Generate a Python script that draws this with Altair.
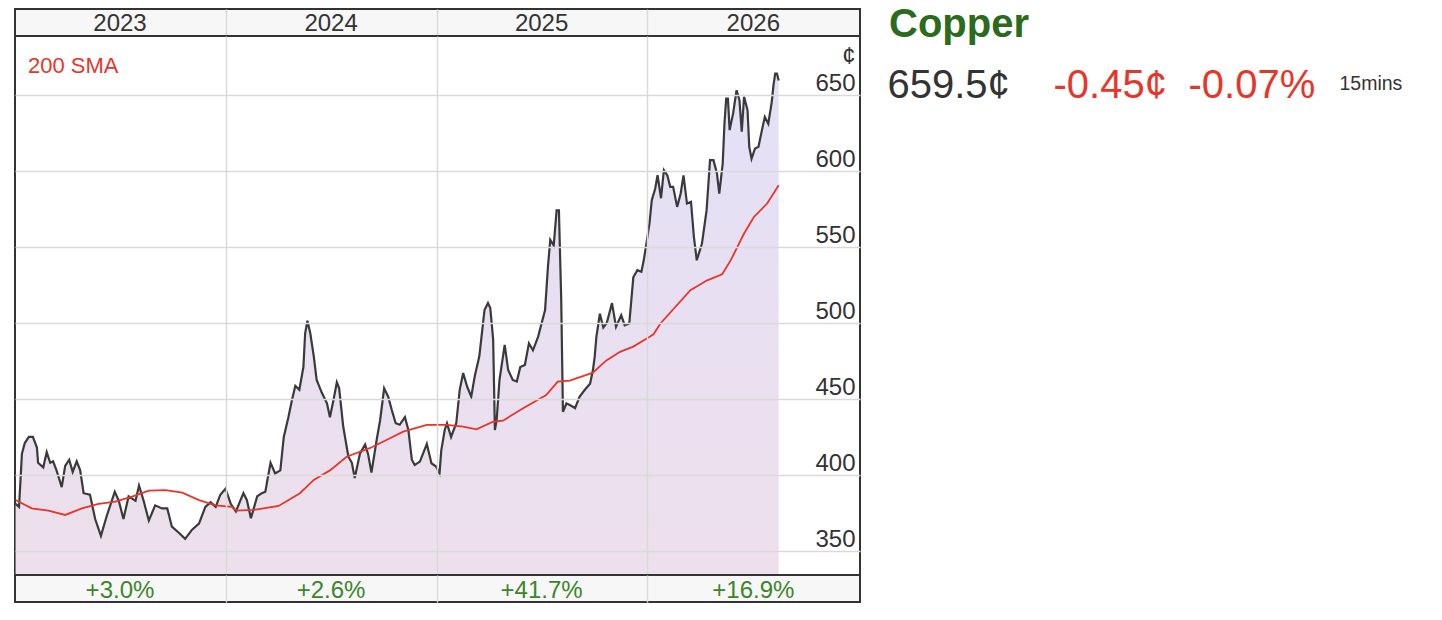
import altair as alt
import pandas as pd

FONT = "Liberation Sans, Arial, Helvetica, sans-serif"

# ---- data ----
price_dates = [
    "2023-01-02", "2023-01-08", "2023-01-13", "2023-01-18", "2023-01-25", "2023-02-01", "2023-02-08",
    "2023-02-10", "2023-02-19", "2023-02-25", "2023-03-03", "2023-03-08", "2023-03-14", "2023-03-23",
    "2023-03-29", "2023-04-05", "2023-04-11", "2023-04-18", "2023-04-24", "2023-04-30", "2023-05-11",
    "2023-05-20", "2023-05-30", "2023-06-09", "2023-06-23", "2023-06-30", "2023-07-08", "2023-07-17",
    "2023-07-29", "2023-08-04", "2023-08-12", "2023-08-21", "2023-09-01", "2023-09-13", "2023-09-22",
    "2023-09-30", "2023-10-12", "2023-10-23", "2023-11-04", "2023-11-16", "2023-11-27", "2023-12-06",
    "2023-12-15", "2023-12-23", "2024-01-01", "2024-01-10", "2024-01-19", "2024-02-01", "2024-02-07",
    "2024-02-14", "2024-02-25", "2024-03-04", "2024-03-10", "2024-03-19", "2024-03-27", "2024-04-05",
    "2024-04-11", "2024-04-19", "2024-04-25", "2024-05-01", "2024-05-08", "2024-05-15", "2024-05-18",
    "2024-05-22", "2024-05-27", "2024-06-02", "2024-06-07", "2024-06-16", "2024-06-25", "2024-06-30",
    "2024-07-06", "2024-07-12", "2024-07-16", "2024-07-23", "2024-08-01", "2024-08-07", "2024-08-12",
    "2024-08-21", "2024-08-30", "2024-09-04", "2024-09-10", "2024-09-19", "2024-09-25", "2024-10-02",
    "2024-10-09", "2024-10-15", "2024-10-22", "2024-10-29", "2024-11-07", "2024-11-13", "2024-11-19",
    "2024-11-24", "2024-12-03", "2024-12-15", "2024-12-23", "2024-12-31", "2025-01-06", "2025-01-09",
    "2025-01-15", "2025-01-19", "2025-01-26", "2025-02-04", "2025-02-10", "2025-02-16", "2025-02-23",
    "2025-03-02", "2025-03-08", "2025-03-16", "2025-03-21", "2025-03-25", "2025-03-31", "2025-04-04",
    "2025-04-09", "2025-04-12", "2025-04-15", "2025-04-20", "2025-04-29", "2025-05-05", "2025-05-13",
    "2025-05-20", "2025-05-26", "2025-06-03", "2025-06-10", "2025-06-17", "2025-06-26", "2025-07-02",
    "2025-07-08", "2025-07-13", "2025-07-17", "2025-07-23", "2025-07-28", "2025-08-01", "2025-08-05",
    "2025-08-08", "2025-08-14", "2025-08-20", "2025-08-29", "2025-09-06", "2025-09-15", "2025-09-24",
    "2025-09-29", "2025-10-02", "2025-10-05", "2025-10-11", "2025-10-17", "2025-10-23", "2025-11-01",
    "2025-11-08", "2025-11-17", "2025-11-23", "2025-12-01", "2025-12-08", "2025-12-15", "2025-12-22",
    "2025-12-26", "2025-12-31", "2026-01-05", "2026-01-09", "2026-01-15", "2026-01-19", "2026-01-25",
    "2026-01-30", "2026-02-05", "2026-02-10", "2026-02-15", "2026-02-22", "2026-02-28", "2026-03-05",
    "2026-03-11", "2026-03-18", "2026-03-23", "2026-03-28", "2026-04-06", "2026-04-14", "2026-04-20",
    "2026-04-26", "2026-05-02", "2026-05-06", "2026-05-12", "2026-05-15", "2026-05-18", "2026-05-21",
    "2026-05-24", "2026-05-30", "2026-06-05", "2026-06-10", "2026-06-14", "2026-06-18", "2026-06-24",
    "2026-06-27", "2026-07-01", "2026-07-07", "2026-07-13", "2026-07-19", "2026-07-24", "2026-07-30",
    "2026-08-05", "2026-08-08", "2026-08-11", "2026-08-14", "2026-08-17",
]
price_values = [
    381, 379, 414, 421, 425, 425, 418,
    408, 405, 415, 408, 409, 403, 392,
    406, 410, 402, 409, 403, 388, 387,
    371, 360, 373, 389, 383, 371, 386,
    383, 393, 383, 370, 380, 378, 378,
    366, 362, 358, 364, 368, 379, 382,
    379, 387, 391, 381, 376, 388, 383.5,
    371.5, 386, 388, 389, 408, 401, 403,
    425, 438, 449, 458.6, 456, 471, 493,
    501.5, 493, 478, 462.5, 454, 447, 438,
    449, 461, 457, 432, 412, 408, 398,
    414, 420, 414, 401.5, 423, 436, 457,
    451.5, 443, 434, 433, 438, 429.6, 410,
    406.6, 408.8, 420.4, 407.7, 405.5, 401, 416,
    429.6, 434, 425, 434, 456, 467, 458,
    451.5, 464.7, 478, 495, 508.5, 513, 509.7,
    489, 429.6, 436, 462.5, 485.5, 469, 462.5,
    461.4, 471, 472.4, 486.6, 482, 491, 499.8,
    508.5, 537, 554.6, 551, 574, 574, 515,
    441.6, 447, 446, 444, 451.5, 456, 460,
    469, 477.6, 491, 506, 497, 500, 513,
    497.5, 505, 498.5, 499.7, 530, 534.7, 533.6,
    541, 553, 565.4, 580.7, 588.4, 597.2, 582,
    600.5, 597, 589.5, 589.5, 576.3, 585, 597,
    578.5, 579.6, 556.6, 541.2, 552.2, 574, 607,
    607, 598.3, 585, 605, 631, 647.6, 647.6,
    626.8, 637.8, 653, 646.5, 625.7, 648.7, 640,
    615.8, 608, 614.7, 615.8, 626.8, 635.5, 631,
    645.4, 656.4, 664, 664, 659.5,
]

sma_dates = [
    "2023-01-02", "2023-01-30", "2023-02-28", "2023-03-29", "2023-04-27", "2023-05-26", "2023-06-24",
    "2023-07-23", "2023-08-21", "2023-09-19", "2023-10-18", "2023-11-16", "2023-12-15", "2024-01-12",
    "2024-01-20", "2024-02-19", "2024-04-02", "2024-05-09", "2024-06-02", "2024-06-30", "2024-07-29",
    "2024-09-07", "2024-10-06", "2024-11-04", "2024-12-15", "2025-01-06", "2025-01-18", "2025-02-16",
    "2025-03-11", "2025-04-09", "2025-04-26", "2025-05-31", "2025-07-10", "2025-07-30", "2025-08-20",
    "2025-09-29", "2025-10-17", "2025-10-23", "2025-11-15", "2025-12-08", "2026-01-06", "2026-01-12",
    "2026-01-24", "2026-03-17", "2026-04-15", "2026-05-11", "2026-05-26", "2026-06-18", "2026-07-05",
    "2026-07-28", "2026-08-17",
]
sma_values = [
    383.5, 378, 376.5, 373.7, 378, 381, 382.4,
    385.7, 389.7, 390, 388.4, 383.5, 380, 379,
    376.5, 377, 379.6, 388, 396.7, 403, 412,
    417.6, 423, 428.5, 433, 433, 433, 431.8,
    430, 435, 435.7, 443.9, 452.6, 461.4, 462,
    467.3, 473.5, 475.5, 481, 484.4, 491, 492.5,
    499.6, 521.5, 528, 532, 541.3, 558.8, 569.7,
    578.5, 590.5,
]

years = ["2023", "2024", "2025", "2026"]
year_mid = ["2023-07-02", "2024-07-02", "2025-07-02", "2026-07-04"]
year_changes = ["+3.0%", "+2.6%", "+41.7%", "+16.9%"]
y_ticks = [350, 400, 450, 500, 550, 600, 650]
y_domain = [334.2, 688.7]

name_text = ["Copper"]
last_price = ["659.5¢"]
change_abs = ["-0.45¢"]
change_pct = ["-0.07%"]
delay_text = ["15mins"]
sma_label_text = ["200 SMA"]

# ---- styling ----
W = 845
GRID = "#d9d9d9"
DARK = "#333333"
RED = "#e8352a"
GREEN_TITLE = "#2c6a1c"
GREEN_PCT = "#3b862b"

x_domain = [alt.DateTime(year=2023, month=1, date=1), alt.DateTime(year=2027, month=1, date=5)]
year_bounds = [alt.DateTime(year=y, month=1, date=1) for y in (2024, 2025, 2026)]
xs = alt.Scale(domain=x_domain)
ys = alt.Scale(domain=y_domain, zero=False, nice=False)


def x_grid_axis():
    return alt.Axis(values=year_bounds, grid=True, gridColor=GRID, gridWidth=1.5,
                    labels=False, ticks=False, domain=False, title=None, zindex=1)


def y_axis():
    return alt.Axis(
        orient="right", values=y_ticks, grid=True, gridColor=GRID, gridWidth=1.5,
        ticks=False, tickSize=0, domain=False, labelAlign="right", labelPadding=-5,
        labelBaseline="alphabetic", labelOffset=-4, labelFontSize=24, labelColor=DARK,
        labelFont=FONT, title="¢", titleAngle=0, titleAlign="right",
        titleBaseline="alphabetic", titleX=-5, titleY=27, titleFontSize=24,
        titleFontWeight="normal", titleColor=DARK, titleFont=FONT, zindex=1)


price_df = pd.DataFrame({"date": price_dates, "price": price_values})
sma_df = pd.DataFrame({"date": sma_dates, "price": sma_values})

gradient = alt.Gradient(
    gradient="linear",
    stops=[alt.GradientStop(color="#e3e0f7", offset=0),
           alt.GradientStop(color="#f8dfdf", offset=1)],
    x1=0, x2=0, y1=0, y2=1,
)

enc_x = alt.X("date:T", scale=xs, axis=x_grid_axis())
enc_y = alt.Y("price:Q", scale=ys, axis=y_axis())

area = alt.Chart(price_df).mark_area(color=gradient, clip=True).encode(x=enc_x, y=enc_y)

line = alt.Chart(price_df).mark_line(color="#3a3a3a", strokeWidth=2.2, clip=True).encode(
    x=enc_x, y=enc_y)

sma = alt.Chart(sma_df).mark_line(color=RED, strokeWidth=1.8, clip=True).encode(
    x=enc_x, y=enc_y)

sma_label = alt.Chart(pd.DataFrame({"label": sma_label_text})).mark_text(
    align="left", baseline="alphabetic", fontSize=22, color=RED, font=FONT
).encode(x=alt.value(13), y=alt.value(37), text="label:N")

main = alt.layer(area, line, sma, sma_label).properties(width=W, height=539)

header = alt.Chart(pd.DataFrame({"mid": year_mid, "label": years})).mark_text(
    fontSize=24, color=DARK, baseline="alphabetic", font=FONT
).encode(
    x=alt.X("mid:T", scale=xs, axis=x_grid_axis()),
    y=alt.value(21.5),
    text="label:N",
).properties(width=W, height=27, view=alt.ViewBackground(fill="#f7f7f7"))

footer = alt.Chart(pd.DataFrame({"mid": year_mid, "label": year_changes})).mark_text(
    fontSize=24, color=GREEN_PCT, baseline="alphabetic", font=FONT
).encode(
    x=alt.X("mid:T", scale=xs, axis=x_grid_axis()),
    y=alt.value(22.7),
    text="label:N",
).properties(width=W, height=27, view=alt.ViewBackground(fill="#f7f7f7"))

left = alt.vconcat(header, main, footer, spacing=0, bounds="flush")


def info_text(values, x, y, size, color, weight="normal"):
    return alt.Chart(pd.DataFrame({"t": values})).mark_text(
        align="left", baseline="alphabetic", fontSize=size, color=color,
        font=FONT, fontWeight=weight
    ).encode(x=alt.value(x), y=alt.value(y), text="t:N")


info = alt.layer(
    info_text(name_text, 12, 28, 40, GREEN_TITLE, "bold"),
    info_text(last_price, 10.5, 88.5, 40, DARK),
    info_text(change_abs, 176.5, 88.5, 40, RED),
    info_text(change_pct, 311.5, 88.5, 40, RED),
    info_text(delay_text, 462.5, 81, 19.5, DARK),
).properties(width=540, height=110, view=alt.ViewBackground(stroke="transparent"))

chart = alt.hconcat(left, info, spacing=15).properties(
    padding={"left": 6, "top": -4, "right": 0, "bottom": 0}
).configure_view(stroke=DARK, strokeWidth=2)

chart.save("out.html", embed_options={"renderer": "svg", "actions": False})
